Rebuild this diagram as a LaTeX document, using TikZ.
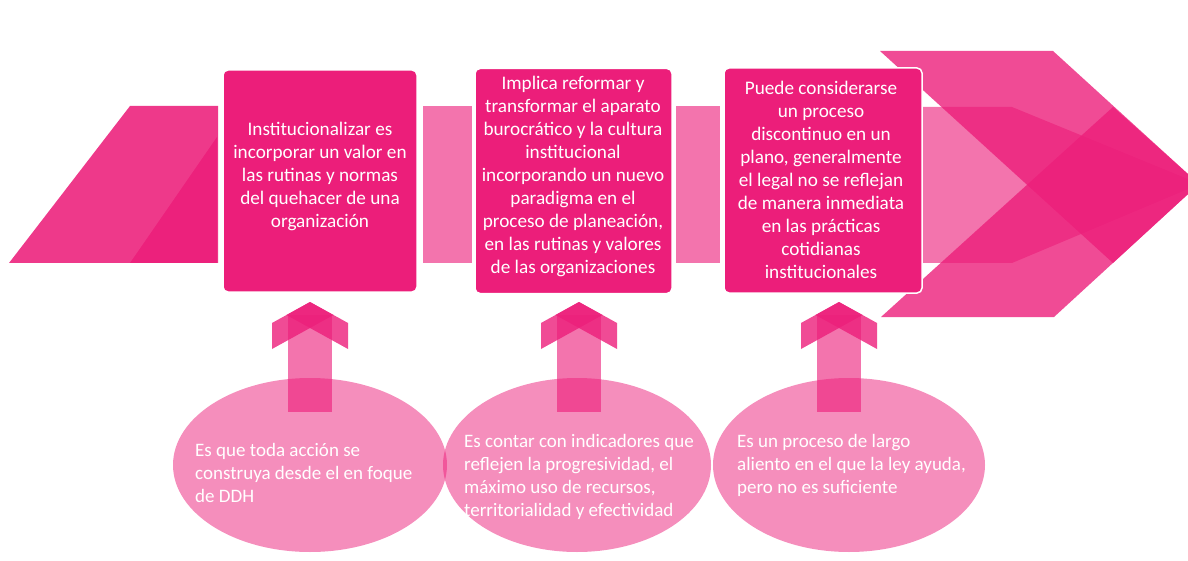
\documentclass[tikz,border=0pt]{standalone}
\usepackage{fontspec}
\setmainfont{Carlito}
\definecolor{mag}{RGB}{236,30,122}
\begin{document}
\begin{tikzpicture}[x=1pt,y=-1pt,
  box/.style={fill=mag, draw=white, line width=1.5pt, rounded corners=5pt},
  band/.style={fill=mag, fill opacity=0.62},
  wing/.style={fill=mag, fill opacity=0.8},
  bubble/.style={fill=mag, fill opacity=0.5},
  boxtext/.style={text=white, align=center, inner sep=0pt, font=\fontsize{19.2}{23}\selectfont},
  bubtext/.style={text=white, align=left, anchor=west, inner sep=0pt, font=\fontsize{19}{23}\selectfont}]
\useasboundingbox (0,0) rectangle (1188,561);
\begin{scope}
\clip (0,0) rectangle (1188,561);
% left parallelogram
\fill[mag, fill opacity=0.88] (9,263) -- (130,106) -- (218,106) -- (218,263) -- cycle;
\fill[mag, fill opacity=0.9] (130,263) -- (217,137) -- (217,263) -- cycle;
% band pieces
\fill[band] (423,106) rectangle (472,263);
\fill[band] (676,106) rectangle (720,263);
\fill[band] (923,107) -- (1012,107) -- (1200,184) -- (1012,263) -- (923,263) -- cycle;
% right arrowhead
\fill[wing] (880,51) -- (1053,51) -- (1199,184) -- (1113,263) -- cycle;
\fill[wing] (881,317) -- (1054,317) -- (1199,184) -- (1113,107) -- cycle;
% ellipses
\fill[bubble] (310,465) ellipse [x radius=137pt, y radius=87pt];
\fill[bubble] (577,465) ellipse [x radius=134pt, y radius=87pt];
\fill[bubble] (849,465) ellipse [x radius=136pt, y radius=87pt];
% up arrows
\foreach \c in {310,579,839}{
  \fill[band] ({\c-22},315) rectangle ({\c+22},412);
  \fill[wing] ({\c-38},323) -- (\c,302) -- ({\c+23.5},315) -- ({\c-38},349) -- cycle;
  \fill[wing] ({\c+38},323) -- (\c,302) -- ({\c-23.5},315) -- ({\c+38},349) -- cycle;
}
\end{scope}
% boxes
\node[box, minimum width=194pt, minimum height=222pt] (b1) at (320,181) {};
\node[box, minimum width=197pt, minimum height=225pt] (b2) at (573.5,181) {};
\node[box, minimum width=198pt, minimum height=225pt] (b3) at (823,180.5) {};
\node[boxtext] (t1) at (320,176) {Institucionalizar es\\incorporar un valor en\\las rutinas y normas\\del quehacer de una\\organización};
\node[boxtext] (t2) at (573,176) {Implica reformar y\\transformar el aparato\\burocrático y la cultura\\institucional\\incorporando un nuevo\\paradigma en el\\proceso de planeación,\\en las rutinas y valores\\de las organizaciones};
\node[boxtext] (t3) at (821,180) {Puede considerarse\\un proceso\\discontinuo en un\\plano, generalmente\\el legal no se reflejan\\de manera inmediata\\en las prácticas\\cotidianas\\institucionales};
% ellipse texts
\node[bubtext] (e1) at (195,473) {Es que toda acción se\\construya desde el en foque\\de DDH};
\node[bubtext] (e2) at (464,476.5) {Es contar con indicadores que\\reflejen la progresividad, el\\máximo uso de recursos,\\territorialidad y efectividad};
\node[bubtext] (e3) at (737,465) {Es un proceso de largo\\aliento en el que la ley ayuda,\\pero no es suficiente};
\end{tikzpicture}
\end{document}
